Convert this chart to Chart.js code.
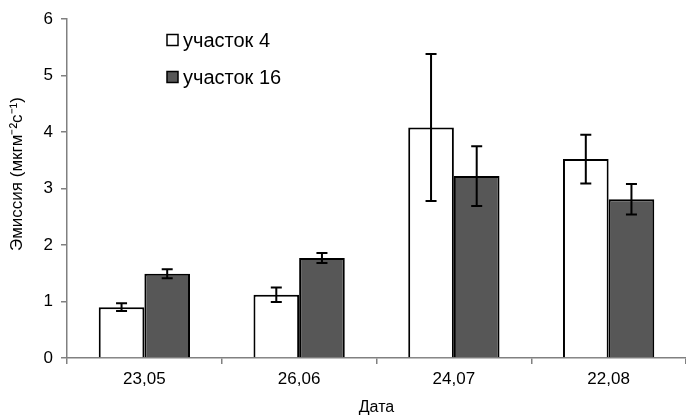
<!DOCTYPE html>
<html><head><meta charset="utf-8">
<script src="https://cdn.jsdelivr.net/npm/chart.js@4/dist/chart.umd.min.js"></script>
<style>html,body{margin:0;padding:0;background:#fff}#w{width:686px;height:417px}</style>
</head><body><div id="w"><canvas id="c"></canvas></div>
<script>
const categories = ['23,05', '26,06', '24,07', '22,08'];
const seriesNames = ['участок 4', 'участок 16'];
const plot4 = [0.90, 1.12, 4.08, 3.52];
const plot4Err = [0.07, 0.13, 1.30, 0.43];
const plot16 = [1.49, 1.77, 3.22, 2.81];
const plot16Err = [0.08, 0.09, 0.53, 0.27];
const yTicks = [0, 1, 2, 3, 4, 5, 6];
const yTitle = 'Эмиссия (мкгм⁻²с⁻¹)';

const FONT = '"Liberation Sans", Arial, sans-serif';
const errs = [plot4Err, plot16Err];

const errorBars = {
  id: 'errorBars',
  afterDatasetsDraw(chart) {
    const ctx = chart.ctx, y = chart.scales.y;
    ctx.save();
    ctx.strokeStyle = '#000'; ctx.lineWidth = 2;
    chart.data.datasets.forEach((ds, di) => {
      const meta = chart.getDatasetMeta(di);
      meta.data.forEach((bar, i) => {
        const v = ds.data[i], e = errs[di][i];
        const x = bar.x, yt = y.getPixelForValue(v + e), yb = y.getPixelForValue(v - e);
        ctx.beginPath();
        ctx.moveTo(x, yt); ctx.lineTo(x, yb);
        ctx.moveTo(x - 5.5, yt); ctx.lineTo(x + 5.5, yt);
        ctx.moveTo(x - 5.5, yb); ctx.lineTo(x + 5.5, yb);
        ctx.stroke();
      });
    });
    ctx.restore();
  }
};

const legendPlugin = {
  id: 'customLegend',
  afterDraw(chart) {
    const ctx = chart.ctx;
    ctx.save();
    const rows = [40, 77];
    chart.data.datasets.forEach((ds, i) => {
      const cy = rows[i];
      ctx.fillStyle = ds.backgroundColor;
      ctx.fillRect(167, cy - 5.5, 11, 11);
      ctx.strokeStyle = '#000'; ctx.lineWidth = 1.5;
      ctx.strokeRect(167, cy - 5.5, 11, 11);
      ctx.fillStyle = '#000';
      ctx.font = '20px ' + FONT;
      ctx.textBaseline = 'middle';
      ctx.textAlign = 'left';
      ctx.fillText(ds.label, 183, cy + 1);
    });
    // y axis title
    ctx.translate(17, 174);
    ctx.rotate(-Math.PI / 2);
    ctx.font = '17px ' + FONT;
    ctx.textAlign = 'center';
    ctx.textBaseline = 'middle';
    ctx.fillText(yTitle, 0, 0);
    ctx.restore();
  }
};

new Chart(document.getElementById('c'), {
  type: 'bar',
  data: {
    labels: categories,
    datasets: [
      { label: seriesNames[0], data: plot4, backgroundColor: '#ffffff', borderColor: '#000', borderWidth: 2 },
      { label: seriesNames[1], data: plot16, backgroundColor: '#575757', borderColor: '#000', borderWidth: 2 }
    ]
  },
  options: {
    responsive: true, maintainAspectRatio: false, animation: false,
    layout: { padding: { top: 19, right: 0, left: 0, bottom: 0 } },
    datasets: { bar: { categoryPercentage: 0.59, barPercentage: 1.0 } },
    plugins: { legend: { display: false }, tooltip: { enabled: false } },
    scales: {
      x: {
        grid: { display: true, drawOnChartArea: false, drawTicks: true, tickLength: 6, color: '#808080', lineWidth: 1.5, offset: true },
        border: { color: '#808080', width: 1.5 },
        ticks: { color: '#000', font: { family: FONT, size: 17 }, padding: 5 },
        title: { display: true, text: 'Дата', color: '#000', font: { family: FONT, size: 16 }, padding: { top: 3, bottom: 0 } },
        afterFit(s) { s.height = 59; }
      },
      y: {
        min: 0, max: 6,
        afterBuildTicks(s) { s.ticks = yTicks.map(v => ({ value: v })); },
        grid: { display: true, drawOnChartArea: false, drawTicks: true, tickLength: 6, color: '#808080', lineWidth: 1.5 },
        border: { color: '#808080', width: 1.5 },
        ticks: { color: '#000', font: { family: FONT, size: 17 }, padding: 8 },
        title: { display: false },
        afterFit(s) { s.width = 67; }
      }
    }
  },
  plugins: [errorBars, legendPlugin]
});
</script>
</body></html>
